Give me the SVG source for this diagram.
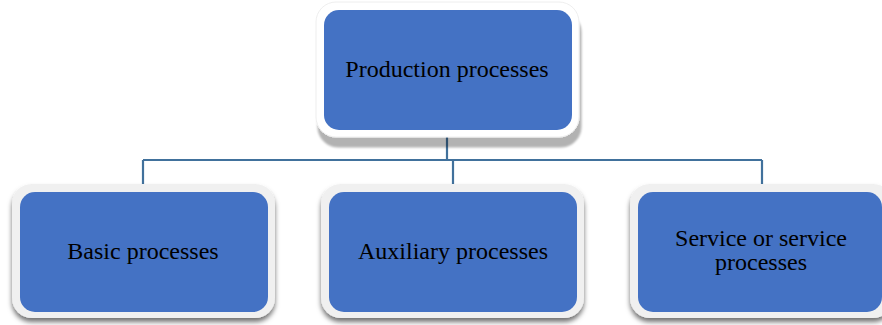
<svg xmlns="http://www.w3.org/2000/svg" width="882" height="325" viewBox="0 0 882 325">
<defs>
<filter id="sh1" x="-10%" y="-10%" width="125%" height="130%">
<feDropShadow dx="2" dy="10" stdDeviation="1" flood-color="#000" flood-opacity="0.3"/>
</filter>
<filter id="sh2" x="-10%" y="-10%" width="125%" height="130%">
<feDropShadow dx="0" dy="4" stdDeviation="2.5" flood-color="#000" flood-opacity="0.55"/>
</filter>
<style>
.frame1{fill:#ffffff;stroke:#eeeeee;stroke-width:1}
.frame2{fill:#f0f0f0}
.box{fill:#4472c4}
.lbl{font-family:"Liberation Serif","Times New Roman",serif;font-size:24px;fill:#000;text-anchor:middle}
.conn{fill:none;stroke:#41719c;stroke-width:2.2}
</style>
</defs>
<rect width="882" height="325" fill="#ffffff"/>
<g id="connectors">
<path class="conn" d="M447 137 V160"/>
<path class="conn" d="M143 160 H762"/>
<path class="conn" d="M143 160 V184"/>
<path class="conn" d="M453 160 V184"/>
<path class="conn" d="M762 160 V184"/>
</g>
<g id="production">
<rect class="frame1" x="316" y="2" width="263" height="135" rx="20" filter="url(#sh1)"/>
<rect class="box" x="324" y="10" width="248" height="120" rx="15"/>
<text class="lbl" x="447" y="77">Production processes</text>
</g>
<g id="basic">
<rect class="frame2" x="12" y="184" width="263" height="134" rx="20" filter="url(#sh2)"/>
<rect class="box" x="20" y="192" width="248" height="120" rx="15"/>
<text class="lbl" x="143" y="259">Basic processes</text>
</g>
<g id="auxiliary">
<rect class="frame2" x="321" y="184" width="263" height="134" rx="20" filter="url(#sh2)"/>
<rect class="box" x="329" y="192" width="248" height="120" rx="15"/>
<text class="lbl" x="453" y="259">Auxiliary processes</text>
</g>
<g id="service">
<rect class="frame2" x="630" y="184" width="263" height="134" rx="20" filter="url(#sh2)"/>
<rect class="box" x="638" y="192" width="244" height="120" rx="15"/>
<text class="lbl" x="761" y="246">Service or service</text>
<text class="lbl" x="761" y="270">processes</text>
</g>
</svg>
